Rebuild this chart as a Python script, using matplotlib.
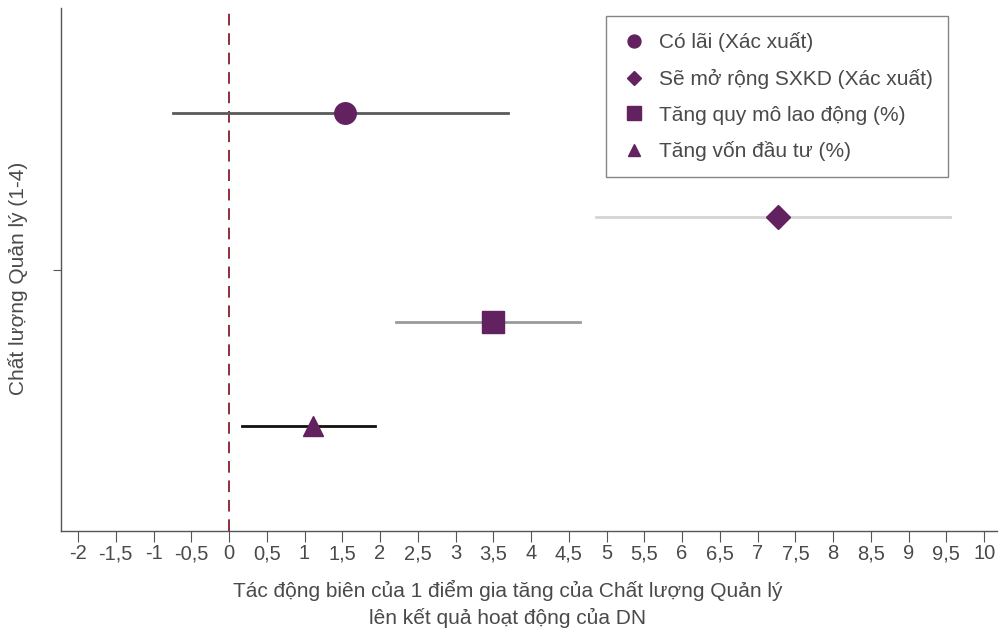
import matplotlib.pyplot as plt
from matplotlib.lines import Line2D

plt.rcParams['font.family'] = ['Liberation Sans', 'DejaVu Sans']

labels = ["Có lãi (Xác xuất)", "Sẽ mở rộng SXKD (Xác xuất)",
          "Tăng quy mô lao động (%)", "Tăng vốn đầu tư (%)"]
estimates = [1.54, 7.27, 3.50, 1.11]
ci_low = [-0.74, 4.86, 2.21, 0.17]
ci_high = [3.70, 9.55, 4.65, 1.93]
y_pos = [4, 3, 2, 1]
markers = ["o", "D", "s", "^"]
marker_sizes = [15.5, 12.5, 16, 15]
ci_colors = ["#5a5a5a", "#d4d4d4", "#9a9a9a", "#111111"]
xticks = [i * 0.5 for i in range(-4, 21)]

purple = "#62215f"
text_col = "#4a4a4a"

fig = plt.figure(figsize=(10, 6.28), dpi=100)
ax = fig.add_axes([0.061, 0.1545, 0.936, 0.8325])

ax.axvline(0, color="#8e2f3c", lw=1.4, ls=(0, (6, 4)), zorder=1)

handles = []
for i in range(len(labels)):
    ax.plot([ci_low[i], ci_high[i]], [y_pos[i], y_pos[i]], color=ci_colors[i], lw=2, zorder=2)
    ax.plot(estimates[i], y_pos[i], marker=markers[i], ms=marker_sizes[i], color=purple,
            ls="none", zorder=3)
    handles.append(Line2D([], [], marker=markers[i], color=purple, ls="none",
                          ms=marker_sizes[i] * 0.6, label=labels[i]))

ax.set_xlim(-2.225, 10.17)
ax.set_ylim(0, 5)
ax.set_xticks(xticks)
ax.set_xticklabels([f"{t:g}".replace(".", ",") for t in xticks], fontsize=14.5, color=text_col)
ax.set_yticks([2.5])
ax.set_yticklabels([""])
ax.tick_params(axis="x", length=8, color="#555555", pad=1.5)
ax.tick_params(axis="y", length=6, color="#555555")

for s in ["top", "right"]:
    ax.spines[s].set_visible(False)
for s in ["left", "bottom"]:
    ax.spines[s].set_color("#555555")
    ax.spines[s].set_linewidth(1)

fig.text(0.508, 1 - 590 / 628, "Tác động biên của 1 điểm gia tăng của Chất lượng Quản lý",
         fontsize=15, color=text_col, ha="center", va="center")
fig.text(0.508, 1 - 618 / 628, "lên kết quả hoạt động của DN",
         fontsize=15, color=text_col, ha="center", va="center")
fig.text(0.018, 1 - 278 / 628, "Chất lượng Quản lý (1-4)", fontsize=15, color=text_col,
         rotation=90, ha="center", va="center")

leg = ax.legend(handles=handles, loc="upper left", bbox_to_anchor=(0.571, 1.004),
                fontsize=15, frameon=True, fancybox=False, borderpad=0.75,
                labelspacing=0.8, handletextpad=0.6, handlelength=1.2)
leg.get_frame().set_edgecolor("#666666")
leg.get_frame().set_linewidth(1)
for t in leg.get_texts():
    t.set_color(text_col)

fig.savefig("out.png", dpi=100)
